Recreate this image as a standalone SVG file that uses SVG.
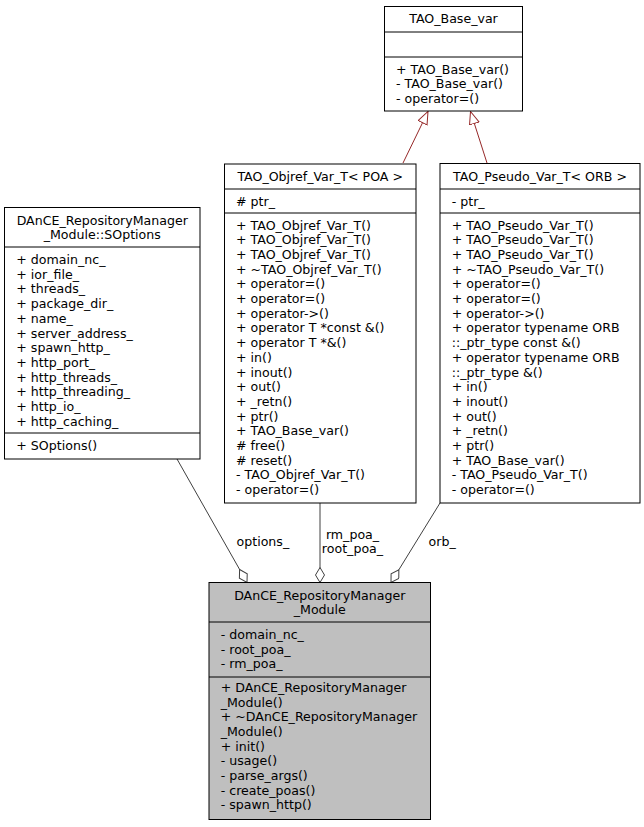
<svg xmlns="http://www.w3.org/2000/svg" width="644" height="827" viewBox="0 0 644 827">
<style>
text { font-family: "DejaVu Sans", "Liberation Sans", sans-serif; font-size: 12.6px; fill: #000; }
.c { text-anchor: middle; }
.box { fill: #fff; stroke: #000; stroke-width: 1; }
.cur { fill: #bfbfbf; stroke: #000; stroke-width: 1; }
.div { stroke: #000; stroke-width: 1; }
.inh { stroke: #962828; stroke-width: 1; fill: none; }
.use { stroke: #404040; stroke-width: 1; fill: none; }
</style>
<defs>
<marker id="tri" markerUnits="userSpaceOnUse" markerWidth="15" markerHeight="12" refX="13" refY="5.5" orient="auto" viewBox="0 0 15 12">
<path d="M0.5,0.5 L13,5.5 L0.5,10.5 Z" fill="#fff" stroke="#962828" stroke-width="1"/>
</marker>
<marker id="dia" markerUnits="userSpaceOnUse" markerWidth="17" markerHeight="11" refX="15.5" refY="5" orient="auto" viewBox="0 0 17 11">
<path d="M0.5,5 L8,0.5 L15.5,5 L8,9.5 Z" fill="#fff" stroke="#404040" stroke-width="1"/>
</marker>
</defs>
<rect width="644" height="827" fill="#fff"/>

<g id="connectors">
<line class="inh" x1="403" y1="163" x2="428" y2="111.5" marker-end="url(#tri)"/>
<line class="inh" x1="487" y1="163" x2="470.5" y2="111.5" marker-end="url(#tri)"/>
<line class="use" x1="177" y1="459" x2="247" y2="582.5" marker-end="url(#dia)"/>
<line class="use" x1="320" y1="503" x2="320" y2="582.5" marker-end="url(#dia)"/>
<line class="use" x1="440" y1="503" x2="391" y2="582.5" marker-end="url(#dia)"/>
<text x="236.5" y="546">options_</text>
<text class="c" x="352.5" y="538.5">rm_poa_</text>
<text class="c" x="352.5" y="553">root_poa_</text>
<text x="428.5" y="545.5">orb_</text>
</g>

<g id="TAO_Base_var">
<rect class="box" x="384.5" y="6.5" width="138" height="104.5"/>
<line class="div" x1="384.5" y1="32" x2="522.5" y2="32"/>
<line class="div" x1="384.5" y1="57" x2="522.5" y2="57"/>
<text class="c" x="453.5" y="22.5">TAO_Base_var</text>
<text x="396" y="73.5">+ TAO_Base_var()</text>
<text x="396" y="88">- TAO_Base_var()</text>
<text x="396" y="102.5">- operator=()</text>
</g>

<g id="SOptions">
<rect class="box" x="4.5" y="207.5" width="195.5" height="251.5"/>
<line class="div" x1="4.5" y1="247" x2="200" y2="247"/>
<line class="div" x1="4.5" y1="433" x2="200" y2="433"/>
<text class="c" x="102.3" y="224.5">DAnCE_RepositoryManager</text>
<text class="c" x="102.3" y="239">_Module::SOptions</text>
<text x="16.3" y="264">+ domain_nc_</text>
<text x="16.3" y="278.7">+ ior_file_</text>
<text x="16.3" y="293.4">+ threads_</text>
<text x="16.3" y="308.1">+ package_dir_</text>
<text x="16.3" y="322.8">+ name_</text>
<text x="16.3" y="337.5">+ server_address_</text>
<text x="16.3" y="352.2">+ spawn_http_</text>
<text x="16.3" y="366.9">+ http_port_</text>
<text x="16.3" y="381.6">+ http_threads_</text>
<text x="16.3" y="396.3">+ http_threading_</text>
<text x="16.3" y="411">+ http_io_</text>
<text x="16.3" y="425.7">+ http_caching_</text>
<text x="16.3" y="450">+ SOptions()</text>
</g>

<g id="TAO_Objref_Var_T">
<rect class="box" x="224.5" y="164" width="191.5" height="339"/>
<line class="div" x1="224.5" y1="189" x2="416" y2="189"/>
<line class="div" x1="224.5" y1="213" x2="416" y2="213"/>
<text class="c" x="320.2" y="180.5">TAO_Objref_Var_T&lt; POA &gt;</text>
<text x="236" y="205.5"># ptr_</text>
<text x="236" y="229.5">+ TAO_Objref_Var_T()</text>
<text x="236" y="244.2">+ TAO_Objref_Var_T()</text>
<text x="236" y="258.9">+ TAO_Objref_Var_T()</text>
<text x="236" y="273.6">+ ~TAO_Objref_Var_T()</text>
<text x="236" y="288.3">+ operator=()</text>
<text x="236" y="303">+ operator=()</text>
<text x="236" y="317.7">+ operator-&gt;()</text>
<text x="236" y="332.4">+ operator T *const &amp;()</text>
<text x="236" y="347.1">+ operator T *&amp;()</text>
<text x="236" y="361.8">+ in()</text>
<text x="236" y="376.5">+ inout()</text>
<text x="236" y="391.2">+ out()</text>
<text x="236" y="405.9">+ _retn()</text>
<text x="236" y="420.6">+ ptr()</text>
<text x="236" y="435.3">+ TAO_Base_var()</text>
<text x="236" y="450"># free()</text>
<text x="236" y="464.7"># reset()</text>
<text x="236" y="479.4">- TAO_Objref_Var_T()</text>
<text x="236" y="494.1">- operator=()</text>
</g>

<g id="TAO_Pseudo_Var_T">
<rect class="box" x="440" y="163.5" width="200" height="339.5"/>
<line class="div" x1="440" y1="189" x2="640" y2="189"/>
<line class="div" x1="440" y1="213" x2="640" y2="213"/>
<text class="c" x="540" y="180.5">TAO_Pseudo_Var_T&lt; ORB &gt;</text>
<text x="451.7" y="205.5">- ptr_</text>
<text x="451.7" y="229.5">+ TAO_Pseudo_Var_T()</text>
<text x="451.7" y="244.2">+ TAO_Pseudo_Var_T()</text>
<text x="451.7" y="258.9">+ TAO_Pseudo_Var_T()</text>
<text x="451.7" y="273.6">+ ~TAO_Pseudo_Var_T()</text>
<text x="451.7" y="288.3">+ operator=()</text>
<text x="451.7" y="303">+ operator=()</text>
<text x="451.7" y="317.7">+ operator-&gt;()</text>
<text x="451.7" y="332.4">+ operator typename ORB</text>
<text x="451.7" y="347.1">::_ptr_type const &amp;()</text>
<text x="451.7" y="361.8">+ operator typename ORB</text>
<text x="451.7" y="376.5">::_ptr_type &amp;()</text>
<text x="451.7" y="391.2">+ in()</text>
<text x="451.7" y="405.9">+ inout()</text>
<text x="451.7" y="420.6">+ out()</text>
<text x="451.7" y="435.3">+ _retn()</text>
<text x="451.7" y="450">+ ptr()</text>
<text x="451.7" y="464.7">+ TAO_Base_var()</text>
<text x="451.7" y="479.4">- TAO_Pseudo_Var_T()</text>
<text x="451.7" y="494.1">- operator=()</text>
</g>

<g id="DAnCE_RepositoryManager_Module">
<rect class="cur" x="209" y="582.5" width="221.5" height="237"/>
<line class="div" x1="209" y1="622" x2="430.5" y2="622"/>
<line class="div" x1="209" y1="677" x2="430.5" y2="677"/>
<text class="c" x="319.8" y="599.5">DAnCE_RepositoryManager</text>
<text class="c" x="319.8" y="614">_Module</text>
<text x="220.7" y="639">- domain_nc_</text>
<text x="220.7" y="653.6">- root_poa_</text>
<text x="220.7" y="668.2">- rm_poa_</text>
<text x="220.7" y="692">+ DAnCE_RepositoryManager</text>
<text x="220.7" y="706.7">_Module()</text>
<text x="220.7" y="721.3">+ ~DAnCE_RepositoryManager</text>
<text x="220.7" y="736">_Module()</text>
<text x="220.7" y="750.6">+ init()</text>
<text x="220.7" y="765.3">- usage()</text>
<text x="220.7" y="780">- parse_args()</text>
<text x="220.7" y="794.6">- create_poas()</text>
<text x="220.7" y="809.3">- spawn_http()</text>
</g>
</svg>
